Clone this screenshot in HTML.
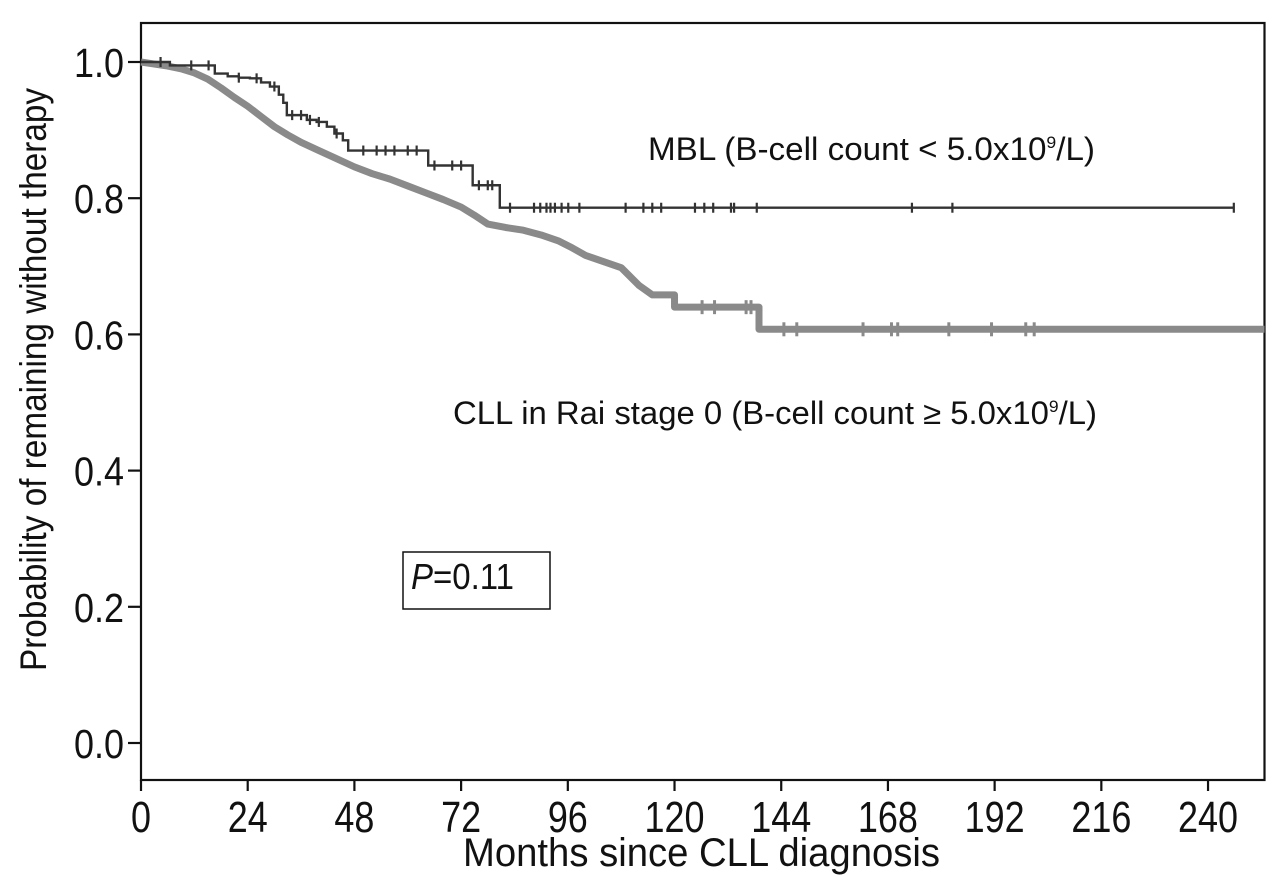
<!DOCTYPE html>
<html><head><meta charset="utf-8"><style>
html,body{margin:0;padding:0;background:#fff;width:1280px;height:888px;overflow:hidden}
svg{display:block}
text{font-family:"Liberation Sans",sans-serif;fill:#111}
</style></head><body>
<svg id="chart" width="1280" height="888" viewBox="0 0 1280 888" xmlns="http://www.w3.org/2000/svg">
<g id="plot"></g>
</svg>
<script>
const xTicks=[0,24,48,72,96,120,144,168,192,216,240];
const yTicks=[0.0,0.2,0.4,0.6,0.8,1.0];
const yTickLabels=["0.0","0.2","0.4","0.6","0.8","1.0"];
const mblTimes=[0,6.5,16.6,19.5,22,24.5,27,29,31,32,32.8,37.3,39.5,41.8,43.5,45.4,46.6,64.6,74.6,80.7];
const mblSurv=[1.0,0.995,0.983,0.979,0.977,0.976,0.97,0.964,0.952,0.94,0.922,0.915,0.912,0.905,0.895,0.885,0.870,0.848,0.819,0.786];
const mblEnd=245.8;
const mblCensor=[4.4,11.3,15.2,22,26,30,34,36,38,40,44,50,53,55,57,60,62,66,70,72,76,78,79,83,88.4,89.8,91.2,92.1,93.1,94.6,96.1,98.6,109,113,115,117,124.6,126.7,128.7,132.7,133.4,138.5,173.4,182.5,245.8];
const cllTimes=[0,3,6,9,12,15,18,21,24,27,30,33,36,40,44,48,52,56,60,64,68,72,75,78,82,86,90,94,97,100,104,108,110,112,115,120,139];
const cllSurv=[1.0,0.997,0.994,0.99,0.984,0.975,0.962,0.948,0.935,0.92,0.905,0.893,0.882,0.87,0.858,0.846,0.836,0.828,0.818,0.808,0.798,0.787,0.775,0.762,0.757,0.753,0.746,0.737,0.727,0.716,0.707,0.698,0.685,0.672,0.658,0.64,0.6075];
const cllEnd=252.7;
const cllCensor=[126.2,129.0,136.1,137.2,144.6,147.5,162.4,168.8,170.2,181.7,191.3,199.0,200.9];

const X0=141,PXM=4.446,Y0=743,PXU=681;
const sx=m=>X0+PXM*m, sy=v=>Y0-PXU*v;
const NS="http://www.w3.org/2000/svg";
const g=document.getElementById('plot');
function mk(tag,attrs,parent){const e=document.createElementNS(NS,tag);for(const k in attrs)e.setAttribute(k,attrs[k]);(parent||g).appendChild(e);return e;}

const frame=mk('rect',{x:141,y:23,width:1123.5,height:757,fill:'none',stroke:'#111','stroke-width':2.2});



yTicks.forEach((v,i)=>{
  const t=mk('line',{x1:128,x2:141,y1:sy(v),y2:sy(v),stroke:'#111','stroke-width':2.2});
  
  
  const l=mk('text',{x:124,y:sy(v)+15,'text-anchor':'end','font-size':41,textLength:50,lengthAdjust:'spacingAndGlyphs'});
  l.textContent=yTickLabels[i];
  
  
});
xTicks.forEach(m=>{
  const t=mk('line',{x1:sx(m),x2:sx(m),y1:780,y2:791,stroke:'#111','stroke-width':2.2});
  
  
  const s=String(m);
  const l=mk('text',{x:sx(m),y:832,'text-anchor':'middle','font-size':44,textLength:s.length*20,lengthAdjust:'spacingAndGlyphs'});
  l.textContent=s;
  
  
});

function stepPath(ts,ss,end){
  let d='M'+sx(ts[0])+' '+sy(ss[0]);
  for(let i=1;i<ts.length;i++){d+=' H'+sx(ts[i])+' V'+sy(ss[i]);}
  d+=' H'+sx(end);return d;
}
// smooth-ish path: linear between dense events, steps for the late sparse drops
function smoothPath(ts,ss,end,stepFrom){
  let d='M'+sx(ts[0])+' '+sy(ss[0]);
  for(let i=1;i<ts.length;i++){
    if(ts[i]>=stepFrom){d+=' H'+sx(ts[i])+' V'+sy(ss[i]);}
    else{d+=' L'+sx(ts[i])+' '+sy(ss[i]);}
  }
  d+=' H'+sx(end);return d;
}
function survAt(ts,ss,t){let v=ss[0];for(let i=0;i<ts.length;i++){if(ts[i]<=t)v=ss[i];}return v;}

const cll=mk('path',{d:smoothPath(cllTimes,cllSurv,cllEnd,120),fill:'none',stroke:'#8a8a8a','stroke-width':7,'stroke-linejoin':'round'});


cllCensor.forEach(t=>{
  const y=sy(survAt(cllTimes,cllSurv,t));
  const c=mk('line',{x1:sx(t),x2:sx(t),y1:y-7,y2:y+7,stroke:'#8a8a8a','stroke-width':3});
  
  
});
const mbl=mk('path',{d:stepPath(mblTimes,mblSurv,mblEnd),fill:'none',stroke:'#333','stroke-width':2.4});


mblCensor.forEach(t=>{
  const y=sy(survAt(mblTimes,mblSurv,t));
  const c=mk('line',{x1:sx(t),x2:sx(t),y1:y-5,y2:y+5,stroke:'#333','stroke-width':2.2});
  
  
});

function txt(name,attrs,html){const e=mk('text',attrs);e.innerHTML=html;return e;}
txt('mbl-label',{x:648,y:160,'font-size':32,textLength:447,lengthAdjust:'spacingAndGlyphs'},'MBL (B-cell count &lt; 5.0x10<tspan font-size="17" dy="-12">9</tspan><tspan dy="12">/L)</tspan>');
txt('cll-label',{x:453,y:424,'font-size':32,textLength:644,lengthAdjust:'spacingAndGlyphs'},'CLL in Rai stage 0 (B-cell count ≥ 5.0x10<tspan font-size="17" dy="-12">9</tspan><tspan dy="12">/L)</tspan>');
const pb=mk('rect',{x:403,y:552,width:147,height:57,fill:'none',stroke:'#111','stroke-width':1.5});


txt('p-value-text',{x:411,y:589,'font-size':36,textLength:103,lengthAdjust:'spacingAndGlyphs'},'<tspan font-style="italic">P</tspan>=0.11');
txt('x-axis-title',{x:463,y:866,'font-size':40,textLength:477,lengthAdjust:'spacingAndGlyphs'},'Months since CLL diagnosis');
txt('y-axis-title',{x:0,y:0,'font-size':37,textLength:583,lengthAdjust:'spacingAndGlyphs',transform:'translate(46,671) rotate(-90)'},'Probability of remaining without therapy');
</script>
</body></html>
